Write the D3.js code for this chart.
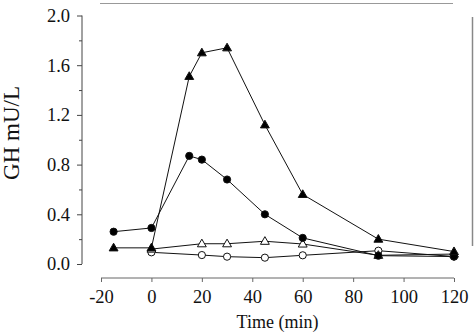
<!DOCTYPE html>
<html>
<head>
<meta charset="utf-8">
<script src="https://cdn.jsdelivr.net/npm/d3@7/dist/d3.min.js"></script>
<style>
  html, body { margin: 0; padding: 0; background: #fff; }
  svg { display: block; }
  svg text { font-family: 'Liberation Serif', 'Times New Roman', Times, serif; fill: #111; }
</style>
</head>
<body>
<svg id="chart" width="474" height="334"></svg>
<script>
// Sampling times (min)
const timesFull = [-15, 0, 15, 20, 30, 45, 60, 90, 120];
const timesOpen = [0, 20, 30, 45, 60, 90, 120];

// GH concentrations (mU/L)
const filledTriangle = [0.13, 0.13, 1.51, 1.70, 1.74, 1.12, 0.56, 0.20, 0.10];
const filledCircle   = [0.26, 0.29, 0.87, 0.84, 0.68, 0.40, 0.21, 0.067, 0.06];
const openTriangle   = [0.12, 0.163, 0.163, 0.183, 0.161, 0.07, 0.08];
const openCircle     = [0.094, 0.072, 0.059, 0.051, 0.07, 0.107, 0.06];

// Axis ticks
const xTicks = [-20, 0, 20, 40, 60, 80, 100, 120];
const yTicks = [0.0, 0.4, 0.8, 1.2, 1.6, 2.0];
const yMinor = [0.2, 0.6, 1.0, 1.4, 1.8];

const svg = d3.select("#chart");

const x = d3.scaleLinear().domain([-20, 120]).range([101, 454]);
const y = d3.scaleLinear().domain([0, 2]).range([264, 15.5]);

const axisColor = "#444";
const serif = "'Liberation Serif', 'Times New Roman', Times, serif";

// Faint frame remnants along the top and right edges
svg.append("line")
  .attr("x1", 100).attr("x2", 453).attr("y1", 3.5).attr("y2", 3.5)
  .attr("stroke", "#999").attr("stroke-width", 1);
svg.append("line")
  .attr("x1", 472.5).attr("x2", 472.5).attr("y1", 17).attr("y2", 246)
  .attr("stroke", "#888").attr("stroke-width", 1.5);

// Y axis
const yAxisG = svg.append("g").attr("transform", "translate(82,0)");
yAxisG.call(d3.axisLeft(y).tickValues(yTicks).tickFormat(d3.format(".1f")).tickSize(5).tickPadding(7))
  .attr("font-family", serif)
  .call(g => g.select(".domain").attr("d", `M0,${y(0)}V${y(2)}`).attr("stroke", axisColor))
  .call(g => g.selectAll(".tick line").attr("stroke", axisColor))
  .call(g => g.selectAll(".tick text").attr("font-size", 18.5).attr("fill", "#111"));
yAxisG.append("g")
  .call(d3.axisLeft(y).tickValues(yMinor).tickFormat("").tickSize(3))
  .call(g => g.select(".domain").remove())
  .call(g => g.selectAll(".tick line").attr("stroke", axisColor));

// X axis
const xAxisG = svg.append("g").attr("transform", "translate(0,278)");
xAxisG.call(d3.axisBottom(x).tickValues(xTicks).tickFormat(d => String(d)).tickSize(4).tickPadding(8))
  .attr("font-family", serif)
  .call(g => g.select(".domain").attr("d", `M${x(-20)},0H${x(120)}`).attr("stroke", "#666"))
  .call(g => g.selectAll(".tick line").attr("stroke", "#666"))
  .call(g => g.selectAll(".tick text").attr("font-size", 18.5).attr("fill", "#111"));

// Axis titles
svg.append("text")
  .attr("x", 277.5).attr("y", 328)
  .attr("text-anchor", "middle").attr("font-size", 18)
  .text("Time (min)");
svg.append("text")
  .attr("transform", "translate(19,133) rotate(-90)")
  .attr("text-anchor", "middle").attr("font-size", 23)
  .text("GH mU/L");

const line = d3.line().x(d => x(d[0])).y(d => y(d[1]));

const series = [
  { t: timesOpen, v: openCircle,     shape: "circle",   fill: "#fff" },
  { t: timesOpen, v: openTriangle,   shape: "triangle", fill: "#fff" },
  { t: timesFull, v: filledCircle,   shape: "circle",   fill: "#000" },
  { t: timesFull, v: filledTriangle, shape: "triangle", fill: "#000" }
];

// Connecting lines first
series.forEach(s => {
  const pts = s.t.map((t, i) => [t, s.v[i]]);
  svg.append("path")
    .datum(pts)
    .attr("d", line)
    .attr("fill", "none")
    .attr("stroke", "#111")
    .attr("stroke-width", 1);
});

// Markers on top
const triSym = d3.symbol().type(d3.symbolTriangle).size(34);
series.forEach(s => {
  const pts = s.t.map((t, i) => [t, s.v[i]]);
  const g = svg.append("g");
  if (s.shape === "circle") {
    g.selectAll("circle").data(pts).join("circle")
      .attr("cx", d => x(d[0])).attr("cy", d => y(d[1]))
      .attr("r", 3.6)
      .attr("fill", s.fill).attr("stroke", "#111").attr("stroke-width", 1);
  } else {
    g.selectAll("path").data(pts).join("path")
      .attr("d", triSym)
      .attr("transform", d => `translate(${x(d[0])},${y(d[1]) + 0.5})`)
      .attr("fill", s.fill).attr("stroke", "#111").attr("stroke-width", 1);
  }
});
</script>
</body>
</html>
